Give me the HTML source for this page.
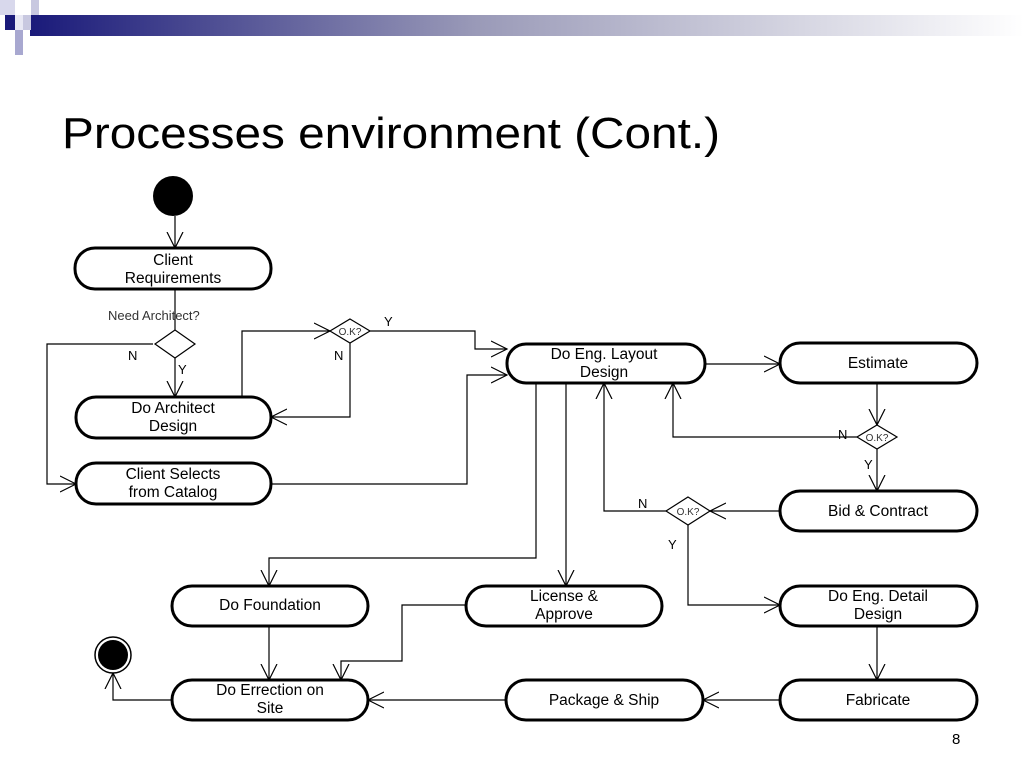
<!DOCTYPE html>
<html><head><meta charset="utf-8"><style>
body{margin:0;background:#fff}
svg{display:block}
text{font-family:"Liberation Sans",sans-serif}
</style></head><body>
<svg width="1024" height="768" viewBox="0 0 1024 768" xmlns="http://www.w3.org/2000/svg">
<defs>
<linearGradient id="g" x1="0" x2="1"><stop offset="0" stop-color="#1a1a7a"/><stop offset="0.45" stop-color="#9a9ab8"/><stop offset="1" stop-color="#fff"/></linearGradient>
<marker id="a" markerWidth="18" markerHeight="18" refX="16" refY="9" orient="auto" markerUnits="userSpaceOnUse"><path d="M0,1 L16,9 L0,17" fill="none" stroke="#000" stroke-width="1.2"/></marker>
</defs>
<rect x="30" y="15" width="994" height="21" fill="url(#g)"/>
<rect x="0" y="0" width="15" height="15" fill="#d8d8ec"/>
<rect x="5" y="15" width="10" height="15" fill="#1a1a7a"/>
<rect x="15" y="15" width="8" height="15" fill="#e8e8f4"/>
<rect x="23" y="15" width="8" height="15" fill="#c8c8e0"/>
<rect x="31" y="0" width="8" height="15" fill="#c8c8e0"/>
<rect x="15" y="30" width="8" height="15" fill="#a8a8d0"/>
<rect x="15" y="45" width="8" height="10" fill="#a8a8d0"/>
<text x="62" y="148" font-size="44" fill="#000" textLength="658" lengthAdjust="spacingAndGlyphs">Processes environment (Cont.)</text>
<text x="952" y="744" font-size="15">8</text>

<g fill="none" stroke="#000" stroke-width="1.2">
<path d="M175,216 V248" marker-end="url(#a)"/>
<path d="M175,289 V330"/>
<path d="M175,358 V397" marker-end="url(#a)"/>
<path d="M153,344 H47 V484 H76" marker-end="url(#a)"/>
<path d="M242,397 V331 H330" marker-end="url(#a)"/>
<path d="M350,343 V417 H271" marker-end="url(#a)"/>
<path d="M370,331 H475 V349 H507" marker-end="url(#a)"/>
<path d="M271,484 H467 V375 H507" marker-end="url(#a)"/>
<path d="M705,364 H780" marker-end="url(#a)"/>
<path d="M877,383 V425" marker-end="url(#a)"/>
<path d="M857,437 H673 V383" marker-end="url(#a)"/>
<path d="M877,449 V491" marker-end="url(#a)"/>
<path d="M780,511 H710" marker-end="url(#a)"/>
<path d="M666,511 H604 V383" marker-end="url(#a)"/>
<path d="M688,525 V605 H780" marker-end="url(#a)"/>
<path d="M536,383 V558 H269 V586" marker-end="url(#a)"/>
<path d="M566,383 V586" marker-end="url(#a)"/>
<path d="M466,605 H402 V661 H341 V680" marker-end="url(#a)"/>
<path d="M269,626 V680" marker-end="url(#a)"/>
<path d="M877,626 V680" marker-end="url(#a)"/>
<path d="M780,700 H703" marker-end="url(#a)"/>
<path d="M506,700 H368" marker-end="url(#a)"/>
<path d="M172,700 H113 V673" marker-end="url(#a)"/>
</g>
<g fill="#fff" stroke="#000" stroke-width="1.2">
<path d="M175,330 L195,344 L175,358 L155,344Z"/>
<path d="M350,319 L370,331 L350,343 L330,331Z"/>
<path d="M877,425 L897,437 L877,449 L857,437Z"/>
<path d="M688,497 L710,511 L688,525 L666,511Z"/>
</g>
<g font-size="10" fill="#333" text-anchor="middle">
<text x="350" y="335">O.K?</text><text x="877" y="441">O.K?</text><text x="688" y="515">O.K?</text>
</g>
<g font-size="13" fill="#000">
<text x="108" y="320" fill="#333" font-size="13">Need Architect?</text>
<text x="128" y="360">N</text><text x="178" y="374">Y</text>
<text x="334" y="360">N</text><text x="384" y="326">Y</text>
<text x="838" y="439">N</text><text x="864" y="469">Y</text>
<text x="638" y="508">N</text><text x="668" y="549">Y</text>
</g>
<circle cx="173" cy="196" r="20" fill="#000"/>
<circle cx="113" cy="655" r="18" fill="#fff" stroke="#000" stroke-width="1.5"/>
<circle cx="113" cy="655" r="15" fill="#000"/>
<g fill="#fff" stroke="#000" stroke-width="3">
<rect x="75" y="248" width="196" height="41" rx="20"/>
<rect x="76" y="397" width="195" height="41" rx="20"/>
<rect x="76" y="463" width="195" height="41" rx="20"/>
<rect x="507" y="344" width="198" height="39" rx="19"/>
<rect x="780" y="343" width="197" height="40" rx="20"/>
<rect x="780" y="491" width="197" height="40" rx="20"/>
<rect x="780" y="586" width="197" height="40" rx="20"/>
<rect x="780" y="680" width="197" height="40" rx="20"/>
<rect x="506" y="680" width="197" height="40" rx="20"/>
<rect x="172" y="680" width="196" height="40" rx="20"/>
<rect x="172" y="586" width="196" height="40" rx="20"/>
<rect x="466" y="586" width="196" height="40" rx="20"/>
</g>
<g font-size="15.5" text-anchor="middle" fill="#000">
<text x="173" y="265">Client</text><text x="173" y="283">Requirements</text>
<text x="173" y="413">Do Architect</text><text x="173" y="431">Design</text>
<text x="173" y="479">Client Selects</text><text x="173" y="497">from Catalog</text>
<text x="604" y="359">Do Eng. Layout</text><text x="604" y="377">Design</text>
<text x="878" y="368">Estimate</text>
<text x="878" y="516">Bid &amp; Contract</text>
<text x="878" y="601">Do Eng. Detail</text><text x="878" y="619">Design</text>
<text x="878" y="705">Fabricate</text>
<text x="604" y="705">Package &amp; Ship</text>
<text x="270" y="695">Do Errection on</text><text x="270" y="713">Site</text>
<text x="270" y="610">Do Foundation</text>
<text x="564" y="601">License &amp;</text><text x="564" y="619">Approve</text>
</g>
</svg>
</body></html>
